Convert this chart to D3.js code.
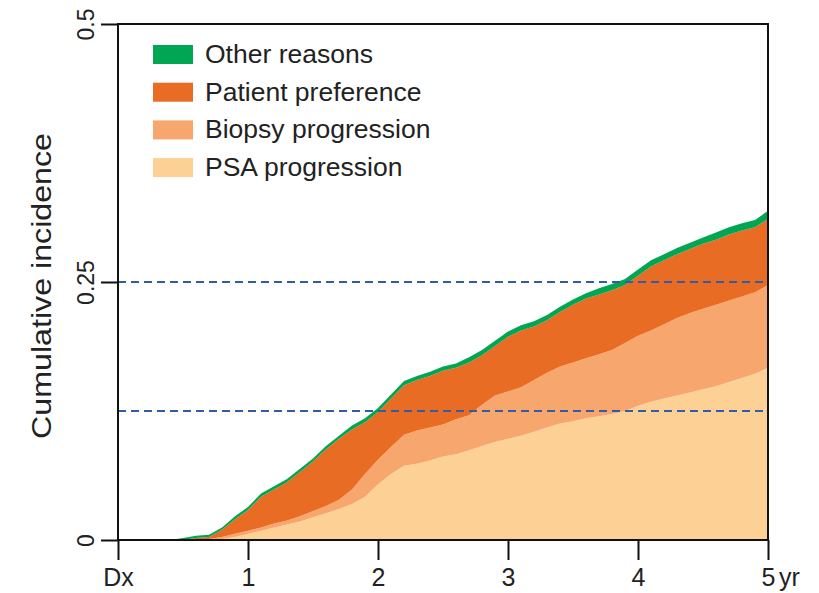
<!DOCTYPE html>
<html>
<head>
<meta charset="utf-8">
<script src="https://cdn.jsdelivr.net/npm/d3@7"></script>
<style>
  html, body { margin: 0; padding: 0; background: #fff; }
  svg { display: block; font-family: "Liberation Sans", Arial, Helvetica, sans-serif; }
</style>
</head>
<body>
<svg id="chart" width="819" height="593"></svg>
<script>
// Years since diagnosis
const years = [0, 0.4, 0.5, 0.6, 0.7, 0.8, 0.9, 1.0, 1.1, 1.2, 1.3, 1.4, 1.5, 1.6, 1.7, 1.8, 1.9,
  2.0, 2.1, 2.2, 2.3, 2.4, 2.5, 2.6, 2.7, 2.8, 2.9, 3.0, 3.1, 3.2, 3.3, 3.4, 3.5, 3.6, 3.7, 3.8, 3.9,
  4.0, 4.1, 4.2, 4.3, 4.4, 4.5, 4.6, 4.7, 4.8, 4.9, 5.0];

// Cumulative incidence contributed by each reason (stacked bottom to top)
const psaProgression = [0, 0, 0, 0, 0, 0.001, 0.003, 0.006, 0.009, 0.012, 0.015, 0.018, 0.022, 0.026, 0.030, 0.035, 0.042,
  0.054, 0.064, 0.072, 0.074, 0.077, 0.081, 0.083, 0.087, 0.091, 0.095, 0.098, 0.101, 0.105, 0.109, 0.113, 0.115, 0.118, 0.120, 0.122, 0.125,
  0.130, 0.134, 0.137, 0.140, 0.143, 0.146, 0.149, 0.153, 0.157, 0.161, 0.167];
const biopsyProgression = [0, 0, 0, 0, 0.001, 0.002, 0.003, 0.003, 0.003, 0.004, 0.004, 0.005, 0.006, 0.007, 0.009, 0.014, 0.022,
  0.024, 0.026, 0.030, 0.032, 0.032, 0.031, 0.034, 0.034, 0.040, 0.045, 0.046, 0.047, 0.050, 0.053, 0.055, 0.057, 0.058, 0.060, 0.062, 0.066,
  0.068, 0.069, 0.072, 0.075, 0.077, 0.078, 0.079, 0.079, 0.079, 0.079, 0.080];
const patientPreference = [0, 0, 0, 0.002, 0.002, 0.007, 0.014, 0.020, 0.030, 0.033, 0.037, 0.043, 0.048, 0.055, 0.059, 0.058, 0.050,
  0.046, 0.047, 0.048, 0.049, 0.050, 0.052, 0.050, 0.051, 0.048, 0.048, 0.053, 0.055, 0.052, 0.051, 0.053, 0.056, 0.058, 0.058, 0.058, 0.056,
  0.058, 0.062, 0.062, 0.062, 0.062, 0.063, 0.063, 0.064, 0.064, 0.063, 0.064];
const otherReasons = [0, 0, 0.002, 0.002, 0.002, 0.002, 0.003, 0.003, 0.003, 0.003, 0.003, 0.003, 0.003, 0.003, 0.003, 0.004, 0.004,
  0.004, 0.004, 0.004, 0.004, 0.004, 0.004, 0.004, 0.005, 0.005, 0.005, 0.005, 0.005, 0.005, 0.005, 0.005, 0.005, 0.005, 0.006, 0.006, 0.006,
  0.006, 0.006, 0.006, 0.006, 0.006, 0.006, 0.007, 0.007, 0.007, 0.007, 0.008];

const seriesNames = ["PSA progression", "Biopsy progression", "Patient preference", "Other reasons"];
const seriesColors = ["#FDD096", "#F7A66E", "#E86C24", "#00A651"];
const legendOrder = ["Other reasons", "Patient preference", "Biopsy progression", "PSA progression"];

const xTicks = [0, 1, 2, 3, 4, 5];
const xTickLabels = ["Dx", "1", "2", "3", "4", "5"];
const yTicks = [0, 0.25, 0.5];
const yTickLabels = ["0", "0.25", "0.5"];
const referenceLevels = [0.125, 0.25];

const svg = d3.select("#chart");
const margin = { left: 118, right: 51, top: 24, bottom: 53 };
const W = 819, H = 593;
const FONT = "'Liberation Sans', Arial, Helvetica, sans-serif";

const x = d3.scaleLinear().domain([0, 5]).range([margin.left, W - margin.right]);
const y = d3.scaleLinear().domain([0, 0.5]).range([H - margin.bottom, margin.top]);

const rows = years.map((t, i) => ({
  t,
  "PSA progression": psaProgression[i],
  "Biopsy progression": biopsyProgression[i],
  "Patient preference": patientPreference[i],
  "Other reasons": otherReasons[i]
}));

const stacked = d3.stack().keys(seriesNames)(rows);
const color = d3.scaleOrdinal().domain(seriesNames).range(seriesColors);

const area = d3.area()
  .x(d => x(d.data.t))
  .y0(d => y(d[0]))
  .y1(d => y(d[1]))
  .curve(d3.curveLinear);

svg.append("g")
  .selectAll("path")
  .data(stacked)
  .join("path")
  .attr("fill", d => color(d.key))
  .attr("d", area);

// Reference levels
svg.append("g")
  .selectAll("line")
  .data(referenceLevels)
  .join("line")
  .attr("x1", x(0)).attr("x2", x(5))
  .attr("y1", d => y(d)).attr("y2", d => y(d))
  .attr("stroke", "#2F5DA8")
  .attr("stroke-width", 2.2)
  .attr("stroke-dasharray", "8,5");

// Frame
svg.append("rect")
  .attr("x", x(0)).attr("y", y(0.5))
  .attr("width", x(5) - x(0)).attr("height", y(0) - y(0.5))
  .attr("fill", "none")
  .attr("stroke", "#111")
  .attr("stroke-width", 2);

// Axes
const xAxis = d3.axisBottom(x)
  .tickValues(xTicks)
  .tickSize(20)
  .tickFormat((d, i) => xTickLabels[i]);
const gx = svg.append("g").attr("transform", `translate(0,${y(0)})`).call(xAxis);
gx.select(".domain").remove();
gx.selectAll(".tick line").attr("stroke", "#111").attr("stroke-width", 2);
gx.selectAll(".tick text")
  .attr("y", 46).attr("dy", null)
  .style("font-size", "25px").style("font-family", FONT)
  .attr("fill", "#222");

svg.append("text")
  .attr("x", x(5) + 11)
  .attr("y", y(0) + 46)
  .style("font-size", "25px")
  .attr("fill", "#222")
  .text("yr");

const yAxis = d3.axisLeft(y)
  .tickValues(yTicks)
  .tickSize(17)
  .tickFormat((d, i) => yTickLabels[i]);
const gy = svg.append("g").attr("transform", `translate(${x(0)},0)`).call(yAxis);
gy.select(".domain").remove();
gy.selectAll(".tick line").attr("stroke", "#111").attr("stroke-width", 2);
gy.selectAll(".tick text")
  .style("font-size", "23px").style("font-family", FONT)
  .attr("fill", "#222")
  .attr("text-anchor", "middle")
  .attr("x", null).attr("dy", null)
  .attr("transform", "translate(-24,0) rotate(-90)");

// Vertical axis title
svg.append("text")
  .attr("transform", `translate(51,${(y(0) + y(0.5)) / 2 + 4}) rotate(-90)`)
  .attr("text-anchor", "middle")
  .attr("textLength", 306)
  .attr("lengthAdjust", "spacingAndGlyphs")
  .style("font-size", "28px")
  .attr("fill", "#222")
  .text("Cumulative incidence");

// Legend
const legend = svg.append("g").attr("transform", "translate(153,45)");
const item = legend.selectAll("g")
  .data(legendOrder)
  .join("g")
  .attr("transform", (d, i) => `translate(0,${i * 37.7})`);
item.append("rect")
  .attr("width", 40).attr("height", 19)
  .attr("fill", d => color(d));
item.append("text")
  .attr("x", 52).attr("y", 18)
  .style("font-size", "26.5px")
  .attr("fill", "#222")
  .text(d => d);
</script>
</body>
</html>
